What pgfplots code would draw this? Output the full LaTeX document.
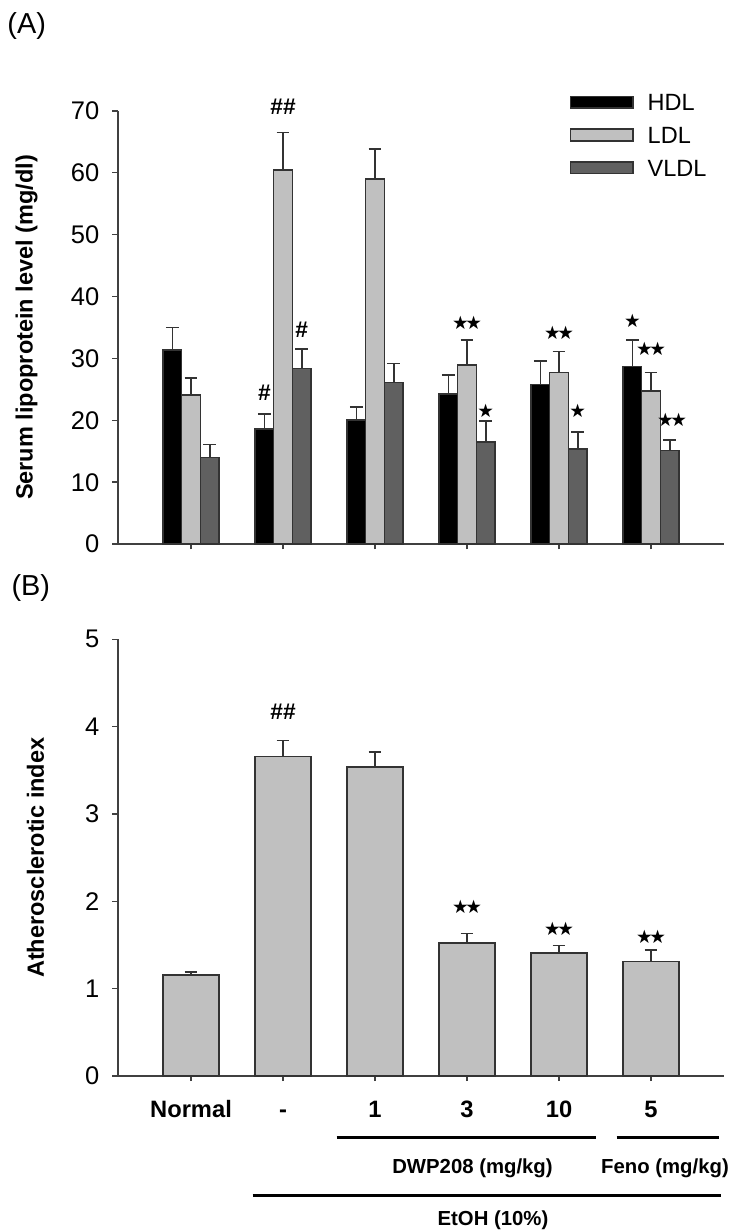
\documentclass[border=0pt]{standalone}
\usepackage{pgfplots}
\usepackage{pgfplotstable}
\pgfplotsset{compat=1.18}
\usepackage{fontspec}
\setmainfont{Liberation Sans}
\newfontfamily\dejavu{DejaVu Sans}
\definecolor{ldlgray}{HTML}{C0C0C0}
\definecolor{vldlgray}{HTML}{606060}
\definecolor{edge}{HTML}{333333}

\pgfplotstableread{
x h he l le v ve
0 31.4 3.6 24.1 2.7 14.0 2.1
1 18.6 2.4 60.4 6.1 28.4 3.1
2 20.1 2.1 59.0 4.8 26.1 3.1
3 24.3 3.0 28.9 4.1 16.5 3.4
4 25.8 3.8 27.7 3.4 15.4 2.7
5 28.7 4.3 24.7 3.0 15.1 1.7
}\tA

\pgfplotstableread{
x v e
0 1.16 0.03
1 3.66 0.18
2 3.54 0.17
3 1.52 0.11
4 1.41 0.085
5 1.31 0.13
}\tB

\newcommand{\st}[1]{{\dejavu\fontsize{9.3}{10}\selectfont #1}}
\newcommand{\sst}{\st{★\kern-1.6bp★}}
\newcommand{\hs}[1]{{\fontsize{11.4}{12}\selectfont\bfseries #1}}

\pgfplotsset{
  common/.style={
    scale only axis,
    width=303.25bp,
    xmin=-0.799, xmax=5.793,
    ymin=0,
    axis lines*=left,
    axis line style={line width=1bp, color=black!75},
    tick style={line width=0.8bp, color=black!75},
    major tick length=2.6bp,
    tick align=outside,
    xtick={0,...,5},
    /pgf/number format/assume math mode=true,
    yticklabel style={font=\fontsize{12.8}{14}\selectfont, xshift=-3bp},
    ylabel style={font=\fontsize{11.8}{13}\selectfont\bfseries, anchor=center},
    clip=false,
  },
  errs/.style={
    error bars/.cd, y dir=plus, y explicit,
    error mark=|,
    error bar style={line width=0.8bp, color=edge},
    error mark options={line width=0.8bp, color=edge, mark size=3.2bp},
  },
}

\begin{document}
\begin{tikzpicture}
\path[use as bounding box] (0,0) rectangle (369.5bp,-615.5bp);

% Panel A
\begin{axis}[common,
  at={(58.75bp,-272.1bp)}, anchor=south west,
  height=216.75bp,
  ymax=70, ytick={0,10,...,70},
  xticklabel=\empty,
  ybar=0pt, bar width=9.35bp,
  ylabel={Serum lipoprotein level (mg/dl)},
  ylabel style={at={(axis description cs:-0.1497,0.5)}},
  legend style={at={(axis description cs:0.745,1.04)}, anchor=north west,
    draw=none, fill=none, inner sep=0pt, row sep=8.0bp,
    font=\fontsize{11.8}{13}\selectfont,
    nodes={text height=8.4bp, text depth=0pt, inner sep=0pt},
    column sep=7bp},
  legend cell align=left,
  legend image code/.code={\draw[#1, line width=0.8bp] (0bp,-2.9bp) rectangle (31.2bp,2.9bp);},
]
\addplot[fill=black, draw=edge, line width=0.8bp, errs] table[x=x, y=h, y error plus=he] {\tA};
\addplot[fill=ldlgray, draw=edge, line width=0.8bp, errs] table[x=x, y=l, y error plus=le] {\tA};
\addplot[fill=vldlgray, draw=edge, line width=0.8bp, errs] table[x=x, y=v, y error plus=ve] {\tA};
\legend{HDL, LDL, VLDL}
\node at (axis cs:1,70.7) {\hs{\#\#}};
\node[xshift=-9.35bp] at (axis cs:1,24.4) {\hs{\#}};
\node[xshift=9.35bp] at (axis cs:1,34.7) {\hs{\#}};
\node at (axis cs:3,35.8) {\sst};
\node[xshift=9.35bp] at (axis cs:3,21.5) {\st{★}};
\node at (axis cs:4,34.2) {\sst};
\node[xshift=9.35bp] at (axis cs:4,21.5) {\st{★}};
\node[xshift=-9.35bp] at (axis cs:5,36.1) {\st{★}};
\node at (axis cs:5,31.5) {\sst};
\node[xshift=10.5bp] at (axis cs:5,20.05) {\sst};
\end{axis}

% Panel B
\begin{axis}[common,
  at={(58.75bp,-538bp)}, anchor=south west,
  height=218.35bp,
  ymax=5, ytick={0,1,...,5},
  xticklabels={Normal, -, 1, 3, 10, 5},
  xticklabel style={font=\fontsize{11.9}{13}\selectfont\bfseries, anchor=base, yshift=-18.2bp},
  ybar=0pt, bar width=27.75bp,
  ylabel={Atherosclerotic index},
  ylabel style={at={(axis description cs:-0.1352,0.5)}},
]
\addplot[fill=ldlgray, draw=edge, line width=0.8bp, errs] table[x=x, y=v, y error plus=e] {\tB};
\node at (axis cs:1,4.17) {\hs{\#\#}};
\node at (axis cs:3,1.94) {\sst};
\node at (axis cs:4,1.68) {\sst};
\node at (axis cs:5,1.59) {\sst};
\end{axis}

\begin{scope}[x=0.5bp, y=-0.5bp]
\node[font=\fontsize{14.5}{16}\selectfont] at (26.7,26) {(A)};
\node[font=\fontsize{14.5}{16}\selectfont] at (30.8,588) {(B)};
\draw[line width=1.5bp] (336.7,1137.7) -- (595.7,1137.7);
\draw[line width=1.5bp] (616.7,1137.7) -- (719,1137.7);
\node[font=\fontsize{10.2}{12}\selectfont\bfseries] at (472.5,1168.3) {DWP208 (mg/kg)};
\node[font=\fontsize{10.2}{12}\selectfont\bfseries] at (665,1168.3) {Feno (mg/kg)};
\draw[line width=1.5bp] (252.7,1196) -- (720.7,1196);
\node[font=\fontsize{10.2}{12}\selectfont\bfseries] at (493,1220) {EtOH (10\%)};
\end{scope}
\end{tikzpicture}
\end{document}
